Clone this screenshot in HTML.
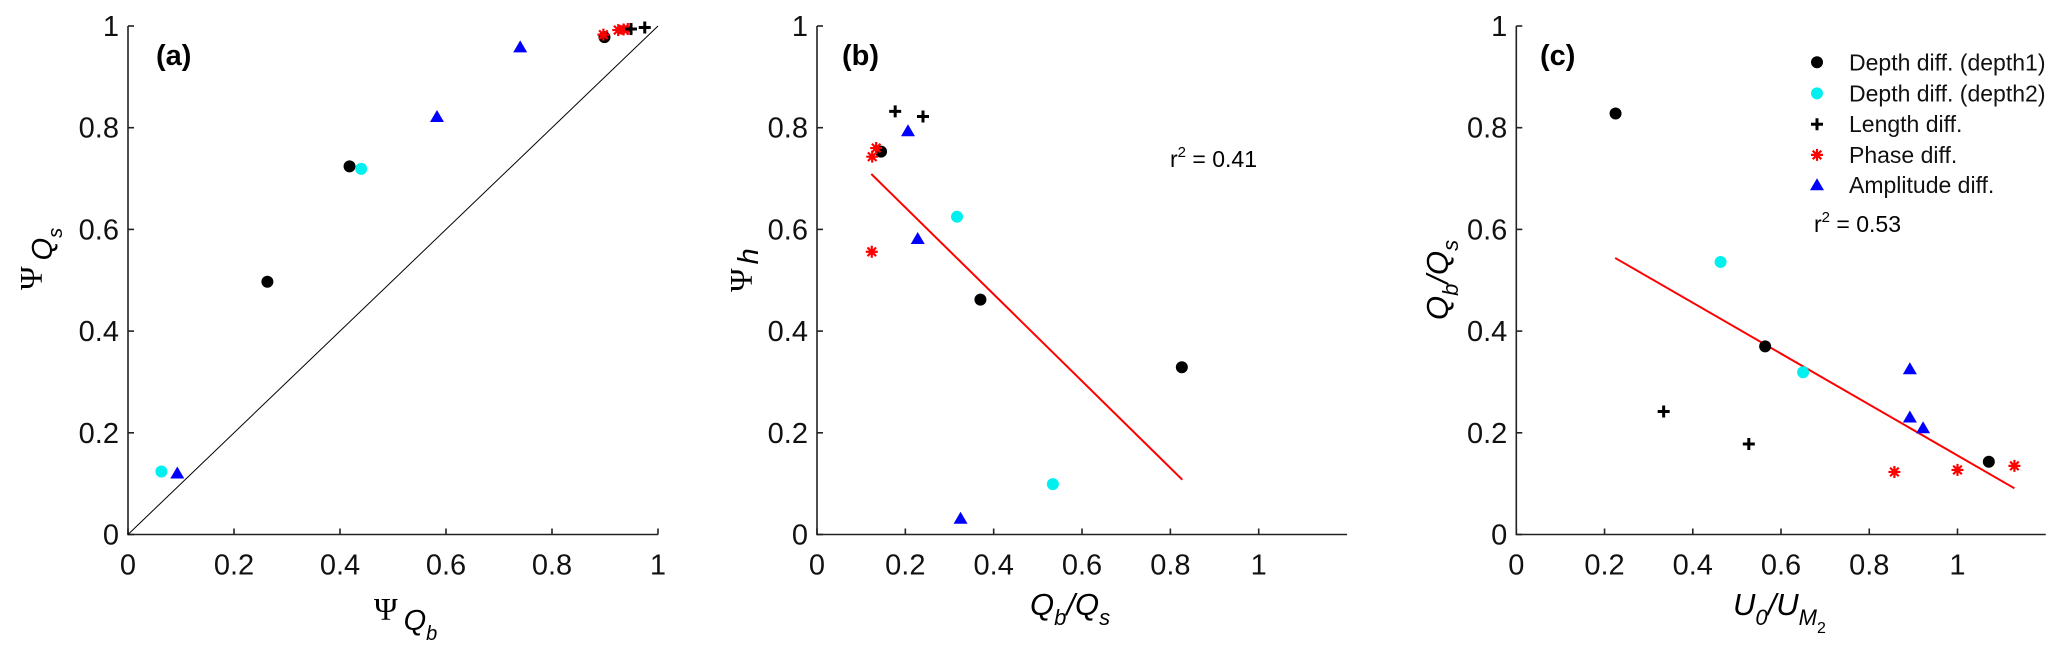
<!DOCTYPE html>
<html><head><meta charset="utf-8"><style>
html,body{margin:0;padding:0;background:#fff;}
svg{display:block;font-family:"Liberation Sans",sans-serif;}
</style></head><body>
<svg id="fig" width="2067" height="660" viewBox="0 0 2067 660"></svg>
<script>
// ---- data ----
const aDepth1X=[0.263,0.418,0.899], aDepth1Y=[0.497,0.724,0.978];
const aDepth2X=[0.063,0.44], aDepth2Y=[0.124,0.719];
const aLengthX=[0.949,0.975], aLengthY=[0.994,0.997];
const aPhaseX=[0.897,0.925,0.935,0.943], aPhaseY=[0.983,0.992,0.993,0.994];
const aAmpX=[0.093,0.583,0.74], aAmpY=[0.12,0.821,0.958];

const bDepth1X=[0.145,0.37,0.826], bDepth1Y=[0.753,0.462,0.329];
const bDepth2X=[0.317,0.534], bDepth2Y=[0.625,0.099];
const bLengthX=[0.177,0.24], bLengthY=[0.832,0.822];
const bPhaseX=[0.124,0.125,0.134], bPhaseY=[0.556,0.743,0.76];
const bAmpX=[0.206,0.228,0.325], bAmpY=[0.793,0.581,0.031];
const bFitX=[0.123,0.827], bFitSlope=-0.854, bFitIntercept=0.814;

const cDepth1X=[0.225,0.564,1.071], cDepth1Y=[0.828,0.370,0.143];
const cDepth2X=[0.463,0.65], cDepth2Y=[0.536,0.319];
const cLengthX=[0.334,0.527], cLengthY=[0.242,0.178];
const cPhaseX=[0.857,1.0,1.129], cPhaseY=[0.123,0.127,0.135];
const cAmpX=[0.892,0.892,0.922], cAmpY=[0.325,0.230,0.209];
const cFitX=[0.224,1.129], cFitSlope=-0.5006, cFitIntercept=0.656;

const xTicksA=[0,0.2,0.4,0.6,0.8,1];
const xTicksBC=[0,0.2,0.4,0.6,0.8,1];
const yTicks=[0,0.2,0.4,0.6,0.8,1];
const legendLabels=["Depth diff. (depth1)","Depth diff. (depth2)","Length diff.","Phase diff.","Amplitude diff."];

const NS="http://www.w3.org/2000/svg";
const svg=document.getElementById('fig');
function mk(tag,attrs,parent,text){const e=document.createElementNS(NS,tag);for(const k in attrs)e.setAttribute(k,attrs[k]);if(text!==undefined)e.textContent=text;(parent||svg).appendChild(e);return e;}

const Y0=534.5, Y1=26;
function yS(v){return Y0-(Y1-Y0)*-v;}
function panel(name,x0,pxPerUnit,xmax,xt){
  const g=mk('g',{});
  
  
  const xs=v=>x0+v*pxPerUnit;
  const ax=mk('path',{d:`M${x0},${Y1} L${x0},${Y0} L${xs(xmax)},${Y0}`,fill:'none',stroke:'#222','stroke-width':1.6},g);
  
  
  xt.forEach(v=>{
    mk('line',{x1:xs(v),x2:xs(v),y1:Y0,y2:Y0-6,stroke:'#222','stroke-width':1.6},g);
    const t=mk('text',{x:xs(v),y:Y0+40,'text-anchor':'middle','font-size':29,fill:'#111'},g,String(v));
    
    
  });
  yTicks.forEach(v=>{
    mk('line',{x1:x0,x2:x0+6,y1:yS(v),y2:yS(v),stroke:'#222','stroke-width':1.6},g);
    const t=mk('text',{x:x0-9,y:yS(v)+10,'text-anchor':'end','font-size':29,fill:'#111'},g,String(v));
    
    
  });
  return {g,xs};
}
function dots(P,X,Y,color,name){X.forEach((x,i)=>{const c=mk('circle',{cx:P.xs(x),cy:yS(Y[i]),r:6,fill:color},P.g);});}
function pluses(P,X,Y,name){X.forEach((x,i)=>{const cx=P.xs(x),cy=yS(Y[i]);const p=mk('path',{d:`M${cx-6},${cy}H${cx+6}M${cx},${cy-6}V${cy+6}`,stroke:'#000','stroke-width':3},P.g);});}
function starAt(g,cx,cy){return mk('path',{d:`M${cx-6},${cy}H${cx+6}M${cx},${cy-6}V${cy+6}M${cx-4.3},${cy-4.3}L${cx+4.3},${cy+4.3}M${cx-4.3},${cy+4.3}L${cx+4.3},${cy-4.3}`,stroke:'#f00','stroke-width':2.2},g);}
function stars(P,X,Y,name){X.forEach((x,i)=>{const p=starAt(P.g,P.xs(x),yS(Y[i]));});}
function triAt(g,cx,cy){return mk('path',{d:`M${cx},${cy-7} L${cx+7},${cy+5} L${cx-7},${cy+5}Z`,fill:'#00f'},g);}
function tris(P,X,Y,name){X.forEach((x,i)=>{const p=triAt(P.g,P.xs(x),yS(Y[i]));});}
function fit(P,X,slope,icpt,name){const l=mk('line',{x1:P.xs(X[0]),y1:yS(slope*X[0]+icpt),x2:P.xs(X[1]),y2:yS(slope*X[1]+icpt),stroke:'#f00','stroke-width':2},P.g);}
function txt(g,attrs,html,name){const t=mk('text',attrs,g);t.innerHTML=html;return t;}

// Panel a
const A=panel('panel-a',128,530,1,xTicksA);
const diag=mk('line',{x1:A.xs(0),y1:yS(0),x2:A.xs(1),y2:yS(1),stroke:'#000','stroke-width':1},A.g);


dots(A,aDepth1X,aDepth1Y,'#000','depth1-point');
dots(A,aDepth2X,aDepth2Y,'#00f0f0','depth2-point');
stars(A,aPhaseX,aPhaseY,'phase-point');
pluses(A,aLengthX,aLengthY,'length-point');
tris(A,aAmpX,aAmpY,'amplitude-point');
txt(A.g,{x:156,y:65,'font-size':29,'font-weight':'bold'},'(a)','panel-label-a');
txt(A.g,{x:374,y:620,'font-size':29},'<tspan font-family="Liberation Serif" font-size="32">Ψ</tspan><tspan dx="6" dy="10" font-style="italic">Q</tspan><tspan font-size="20" dy="10" font-style="italic">b</tspan>','x-axis-title-a');
txt(A.g,{x:0,y:0,'font-size':29,transform:'translate(42,290) rotate(-90)'},'<tspan font-family="Liberation Serif" font-size="32">Ψ</tspan><tspan dx="6" dy="10" font-style="italic">Q</tspan><tspan font-size="20" dy="10" font-style="italic">s</tspan>','y-axis-title-a');

// Panel b
const B=panel('panel-b',817,441.7,1.2,xTicksBC);
fit(B,bFitX,bFitSlope,bFitIntercept,'fit-line-b');
dots(B,bDepth1X,bDepth1Y,'#000','depth1-point');
dots(B,bDepth2X,bDepth2Y,'#00f0f0','depth2-point');
stars(B,bPhaseX,bPhaseY,'phase-point');
pluses(B,bLengthX,bLengthY,'length-point');
tris(B,bAmpX,bAmpY,'amplitude-point');
txt(B.g,{x:842,y:65,'font-size':29,'font-weight':'bold'},'(b)','panel-label-b');
txt(B.g,{x:1170,y:167,'font-size':23},'r<tspan font-size="15" dy="-10">2</tspan><tspan dy="10"> = 0.41</tspan>','r2-label-b');
txt(B.g,{x:1030,y:615,'font-size':31,'font-style':'italic'},'Q<tspan font-size="22" dy="10">b</tspan><tspan dy="-10">/Q</tspan><tspan font-size="22" dy="10">s</tspan>','x-axis-title-b');
txt(B.g,{x:0,y:0,'font-size':29,transform:'translate(752,292) rotate(-90)'},'<tspan font-family="Liberation Serif" font-size="32">Ψ</tspan><tspan dx="4" dy="6" font-style="italic">h</tspan>','y-axis-title-b');

// Panel c
const C=panel('panel-c',1516.3,441.2,1.2,xTicksBC);
fit(C,cFitX,cFitSlope,cFitIntercept,'fit-line-c');
dots(C,cDepth1X,cDepth1Y,'#000','depth1-point');
dots(C,cDepth2X,cDepth2Y,'#00f0f0','depth2-point');
stars(C,cPhaseX,cPhaseY,'phase-point');
pluses(C,cLengthX,cLengthY,'length-point');
tris(C,cAmpX,cAmpY,'amplitude-point');
txt(C.g,{x:1540,y:65,'font-size':29,'font-weight':'bold'},'(c)','panel-label-c');
txt(C.g,{x:1814,y:232,'font-size':23},'r<tspan font-size="15" dy="-10">2</tspan><tspan dy="10"> = 0.53</tspan>','r2-label-c');
txt(C.g,{x:1733,y:615,'font-size':31,'font-style':'italic'},'U<tspan font-size="22" dy="10">0</tspan><tspan dy="-10">/U</tspan><tspan font-size="22" dy="10">M</tspan><tspan font-size="16" dy="8" font-style="normal">2</tspan>','x-axis-title-c');
txt(C.g,{x:0,y:0,'font-size':31,'font-style':'italic',transform:'translate(1448,320) rotate(-90)'},'Q<tspan font-size="22" dy="10">b</tspan><tspan dy="-10">/Q</tspan><tspan font-size="22" dy="10">s</tspan>','y-axis-title-c');

// Legend
const leg=mk('g',{});


const rowsY=[62.3,93.4,124.2,154.9,185.2];
legendLabels.forEach((lab,i)=>{
  const cy=rowsY[i], cx=1817;
  let m;
  if(i===0) m=mk('circle',{cx,cy,r:6,fill:'#000'},leg);
  else if(i===1) m=mk('circle',{cx,cy,r:6,fill:'#00f0f0'},leg);
  else if(i===2) m=mk('path',{d:`M${cx-6},${cy}H${cx+6}M${cx},${cy-6}V${cy+6}`,stroke:'#000','stroke-width':3},leg);
  else if(i===3) m=starAt(leg,cx,cy);
  else m=triAt(leg,cx,cy);
  
  
  const t=mk('text',{x:1849,y:cy+8,'font-size':23,fill:'#111'},leg,lab);
  
  
});
</script>
</body></html>
